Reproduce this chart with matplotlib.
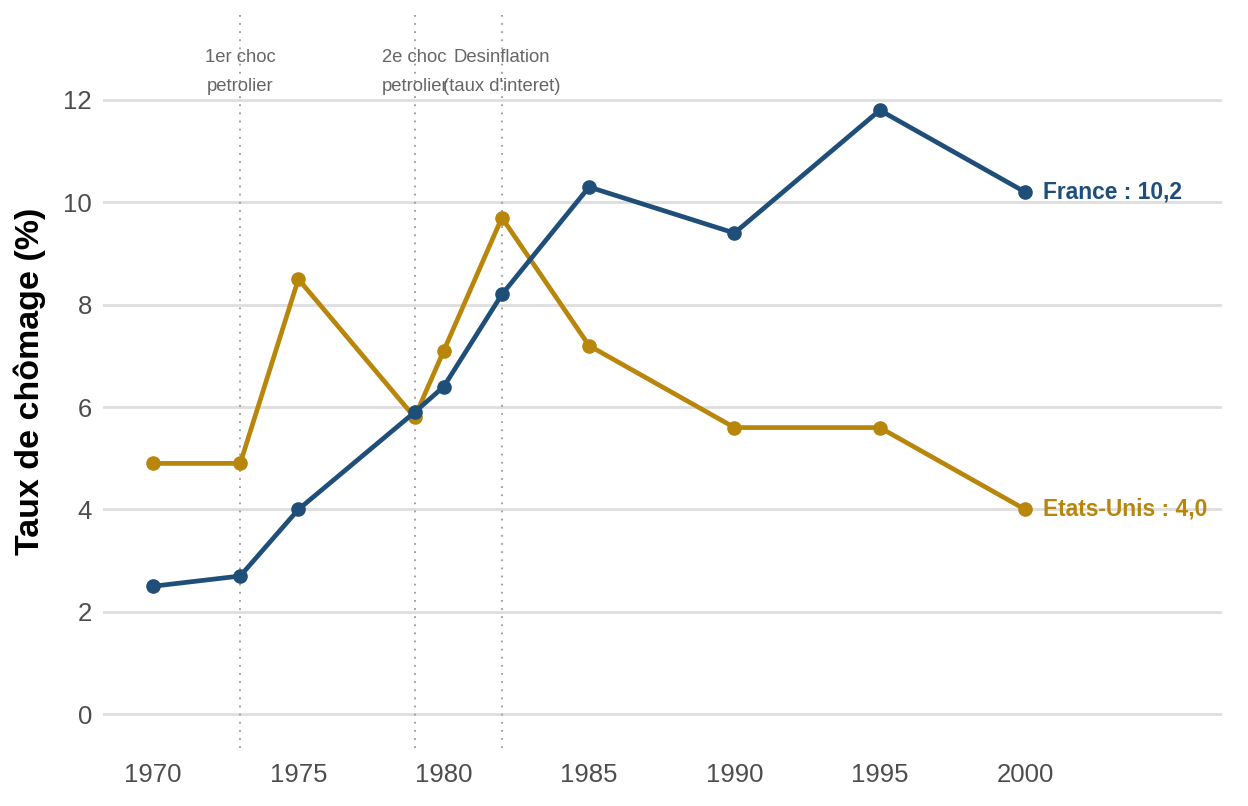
import numpy as np
import matplotlib
matplotlib.use("Agg")
import matplotlib.pyplot as plt

plt.rcParams['font.family'] = ['Liberation Sans', 'DejaVu Sans']

# donnees
years = [1970, 1973, 1975, 1979, 1980, 1982, 1985, 1990, 1995, 2000]
france = [2.5, 2.7, 4.0, 5.9, 6.4, 8.2, 10.3, 9.4, 11.8, 10.2]
usa = [4.9, 4.9, 8.5, 5.8, 7.1, 9.7, 7.2, 5.6, 5.6, 4.0]

events_x = [1973, 1979, 1982]
events_txt = ["1er choc\npetrolier", "2e choc\npetrolier", "Desinflation\n(taux d'interet)"]

xticks = [1970, 1975, 1980, 1985, 1990, 1995, 2000]
yticks = [0, 2, 4, 6, 8, 10, 12]

blue = "#1f4e79"
gold = "#b8860b"

fig = plt.figure(figsize=(12.48, 8.06), dpi=100)
ax = fig.add_axes([103/1248, 1 - 748/806, (1222-103)/1248, (748-15)/806])

for y in yticks:
    ax.axhline(y, color="#dedede", lw=2, zorder=0)

for x, t in zip(events_x, events_txt):
    ax.axvline(x, color="#999999", lw=1.3, ls=(0, (1, 3.5)), zorder=1)
    ax.text(x, 12.55, t, ha="center", va="center", fontsize=13.3, color="#666666",
            linespacing=1.95, zorder=2)

ax.plot(years, usa, color=gold, lw=3.4, marker="o", ms=9.5, zorder=3)
ax.plot(years, france, color=blue, lw=3.4, marker="o", ms=9.5, zorder=4)

ax.text(years[-1] + 0.62, france[-1], "France : %s" % str(france[-1]).replace(".", ","),
        color=blue, fontsize=16.4, fontweight="bold", ha="left", va="center")
ax.text(years[-1] + 0.62, usa[-1], "Etats-Unis : %s" % ("%.1f" % usa[-1]).replace(".", ","),
        color=gold, fontsize=16.4, fontweight="bold", ha="left", va="center")

ax.set_xlim(1968.28, 2006.77)
ax.set_ylim(-0.66, 13.66)
ax.set_xticks(xticks)
ax.set_yticks(yticks)
ax.tick_params(length=0, labelsize=18.5, labelcolor="#4d4d4d")
ax.tick_params(axis="x", pad=11)
ax.tick_params(axis="y", pad=8)
for s in ax.spines.values():
    s.set_visible(False)
ax.set_ylabel("Taux de chômage (%)", fontsize=24.5, fontweight="bold", labelpad=12)

fig.savefig("out.png", dpi=100)
